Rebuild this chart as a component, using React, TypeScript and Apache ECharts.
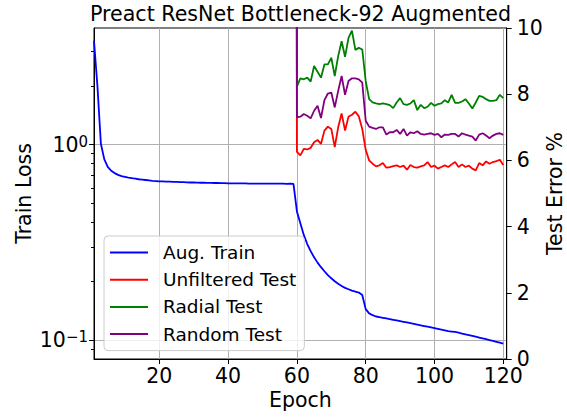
import React, { useEffect, useRef } from 'react';
import * as echarts from 'echarts';

const FONT = 'DejaVu Sans';

const trainEpochs = Array.from({ length: 120 }, (_, i) => i + 1);
const trainLoss = [
  3.40, 1.99, 1.01, 0.84, 0.77, 0.735, 0.715, 0.700, 0.690, 0.684,
  0.678, 0.673, 0.669, 0.665, 0.662, 0.659, 0.656, 0.653, 0.651, 0.649,
  0.648, 0.647, 0.646, 0.645, 0.644, 0.643, 0.642, 0.641, 0.640, 0.640,
  0.639, 0.638, 0.638, 0.637, 0.637, 0.636, 0.636, 0.635, 0.635, 0.634,
  0.634, 0.634, 0.633, 0.633, 0.633, 0.632, 0.632, 0.632, 0.632, 0.631,
  0.631, 0.631, 0.631, 0.632, 0.631, 0.631, 0.630, 0.631, 0.630, 0.455,
  0.396, 0.345, 0.310, 0.285, 0.265, 0.249, 0.236, 0.225, 0.215, 0.207,
  0.200, 0.194, 0.189, 0.185, 0.182, 0.179, 0.177, 0.175, 0.170, 0.144,
  0.137, 0.134, 0.132, 0.131, 0.130, 0.129, 0.128, 0.127, 0.126, 0.125,
  0.124, 0.123, 0.122, 0.121, 0.120, 0.119, 0.118, 0.117, 0.116, 0.115,
  0.114, 0.113, 0.112, 0.111, 0.1105, 0.110, 0.109, 0.108, 0.107, 0.106,
  0.105, 0.104, 0.103, 0.102, 0.101, 0.100, 0.099, 0.098, 0.097, 0.096,
];

const testEpochs = Array.from({ length: 62 }, (_, i) => i + 59);
const unfilteredTest = [
  90,
  6.26, 6.15, 6.35, 6.33, 6.38, 6.55, 6.62, 6.5, 6.9, 7.02,
  6.95, 6.4, 7.0, 7.42, 6.9, 7.32, 7.38, 7.47, 7.33, 6.95,
  6.32, 6.0, 5.9, 5.82, 5.85, 5.92, 5.78, 5.8, 5.83, 5.85,
  5.8, 5.84, 5.72, 5.86, 5.8, 5.78, 5.82, 5.85, 5.95, 5.8,
  5.84, 5.75, 5.8, 5.85, 5.8, 5.88, 5.95, 5.8, 5.88, 5.8,
  5.84, 5.75, 5.7, 5.92, 5.85, 5.97, 5.9, 5.95, 5.98, 6.02, 5.86,
];
const radialTest = [
  90,
  8.23, 8.48, 8.45, 8.5, 8.38, 8.85, 8.68, 8.5, 8.9, 8.9,
  9.1, 8.55, 9.15, 9.6, 9.13, 9.7, 9.92, 9.34, 9.4, 9.35,
  8.4, 7.85, 7.75, 7.72, 7.7, 7.72, 7.7, 7.67, 7.58, 7.75,
  7.88, 7.7, 7.68, 7.72, 7.82, 7.52, 7.68, 7.58, 7.62, 7.74,
  7.65, 7.7, 7.72, 7.82, 7.75, 7.98, 7.74, 7.74, 7.78, 7.85,
  7.72, 7.57, 7.75, 7.95, 7.92, 7.85, 7.8, 7.8, 7.82, 7.98, 7.88,
];
const randomTest = [
  90,
  7.3, 7.32, 7.4, 7.35, 7.27, 7.5, 7.65, 7.28, 7.82, 8.02,
  8.05, 7.6, 8.1, 8.55, 7.98, 8.4, 8.48, 8.48, 8.45, 8.35,
  7.2, 7.02, 6.98, 6.95, 7.0, 7.0, 6.78, 6.85, 6.85, 6.92,
  6.8, 6.95, 6.75, 6.85, 6.82, 6.88, 6.8, 6.78, 6.8, 6.82,
  6.77, 6.8, 6.7, 6.78, 6.77, 6.8, 6.8, 6.72, 6.82, 6.78,
  6.75, 6.72, 6.6, 6.78, 6.82, 6.75, 6.67, 6.75, 6.8, 6.82, 6.77,
];

const xTicks = [20, 40, 60, 80, 100, 120];
const lossMajorTicks = [0.1, 1];
const lossMinorTicks = [0.09, 0.2, 0.3, 0.4, 0.5, 0.6, 0.7, 0.8, 0.9, 2, 3];
const lossRange = [0.08, 3.95];
const errorRange = [0, 10];
const errorInterval = 2;

const seriesNames = ['Aug. Train', 'Unfiltered Test', 'Radial Test', 'Random Test'];
const seriesColors = ['#0000ff', '#ff0000', '#008000', '#800080'];

const log10 = (v: number) => Math.log10(v);

export default function App() {
  const ref = useRef<HTMLDivElement>(null);
  useEffect(() => {
    if (!ref.current) return;
    const chart = echarts.init(ref.current, undefined, { renderer: 'svg' });
    const testSets = [unfilteredTest, radialTest, randomTest];
    const axisLineStyle = { color: '#000', width: 1 };
    const yMin = log10(lossRange[0]);
    const yMax = log10(lossRange[1]);
    chart.setOption({
      animation: false,
      backgroundColor: '#fff',
      textStyle: { fontFamily: FONT },
      grid: {
        left: 94, top: 28, width: 412.7, height: 331,
        outerBoundsMode: 'none', containLabel: false,
        show: true, borderColor: '#000', borderWidth: 1, backgroundColor: 'transparent',
      },
      graphic: [
        {
          type: 'text', x: 300.5, y: 3, z: 10,
          style: {
            text: 'Preact ResNet Bottleneck-92 Augmented',
            font: `20.6px "${FONT}"`, fill: '#000', align: 'center', verticalAlign: 'top',
          },
        },
      ],
      legend: {
        orient: 'vertical', left: 104, top: 236,
        itemWidth: 38, itemHeight: 2, itemGap: 8.2,
        padding: [7, 8, 7, 6],
        backgroundColor: 'rgba(255,255,255,0.8)', borderColor: '#cccccc', borderWidth: 1, borderRadius: 4,
        icon: 'rect',
        formatter: '{t|{name}}',
        textStyle: {
          fontFamily: FONT, fontSize: 18.5, color: '#000',
          rich: { t: { fontFamily: FONT, fontSize: 18.5, color: '#000', padding: [0, 0, 0, 10] } },
        },
        data: seriesNames,
      },
      xAxis: {
        type: 'value', min: 1, max: 121,
        name: 'Epoch', nameLocation: 'middle', nameGap: 30, nameMoveOverlap: false,
        nameTextStyle: { fontFamily: FONT, fontSize: 20.5, color: '#000' },
        axisLine: { show: true, onZero: false, lineStyle: axisLineStyle },
        axisTick: { show: true, length: 5, lineStyle: axisLineStyle, customValues: xTicks },
        axisLabel: { fontFamily: FONT, fontSize: 20.5, color: '#000', margin: 6, customValues: xTicks },
        splitLine: { show: true, lineStyle: { color: '#b0b0b0', width: 1 } },
      },
      yAxis: [
        {
          type: 'value', min: yMin, max: yMax, position: 'left',
          name: 'Train Loss', nameLocation: 'middle', nameGap: 60, nameRotate: 90, nameMoveOverlap: false,
          nameTextStyle: { fontFamily: FONT, fontSize: 20.5, color: '#000' },
          axisLine: { show: true, onZero: false, lineStyle: axisLineStyle },
          axisTick: { show: true, length: 5, lineStyle: axisLineStyle, customValues: lossMajorTicks.map(log10) },
          axisLabel: {
            customValues: lossMajorTicks.map(log10), margin: 6, color: '#000',
            formatter: (v: number) => `{b|10}{s|${Math.round(v) === 0 ? '0' : '\u22121'}}`,
            rich: {
              b: { fontFamily: FONT, fontSize: 20.5, color: '#000', verticalAlign: 'bottom' },
              s: { fontFamily: FONT, fontSize: 15, color: '#000', verticalAlign: 'top' },
            },
          },
          splitLine: { show: true, lineStyle: { color: '#b0b0b0', width: 1 } },
        },
        {
          type: 'value', min: yMin, max: yMax, position: 'left',
          axisLine: { show: false },
          axisTick: { show: true, length: 3, lineStyle: axisLineStyle, customValues: lossMinorTicks.map(log10) },
          axisLabel: { show: false },
          splitLine: { show: false },
        },
        {
          type: 'value', min: errorRange[0], max: errorRange[1], interval: errorInterval, position: 'right',
          name: 'Test Error %', nameLocation: 'middle', nameGap: 38, nameRotate: 90, nameMoveOverlap: false,
          nameTextStyle: { fontFamily: FONT, fontSize: 20.5, color: '#000' },
          axisLine: { show: true, onZero: false, lineStyle: axisLineStyle },
          axisTick: { show: true, length: 5, lineStyle: axisLineStyle },
          axisLabel: { fontFamily: FONT, fontSize: 20.5, color: '#000', margin: 10 },
          splitLine: { show: false },
        },
      ],
      series: [
        {
          name: seriesNames[0], type: 'line', yAxisIndex: 0, showSymbol: false,
          color: seriesColors[0], lineStyle: { width: 1.8, color: seriesColors[0] },
          data: trainEpochs.map((e, i) => [e, log10(trainLoss[i])]),
        },
        ...testSets.map((vals, k) => ({
          name: seriesNames[k + 1], type: 'line', yAxisIndex: 2, showSymbol: false,
          color: seriesColors[k + 1], lineStyle: { width: 1.8, color: seriesColors[k + 1] },
          data: testEpochs.map((e, i) => [e, vals[i]]),
        })),
      ],
    });
    return () => chart.dispose();
  }, []);
  return <div ref={ref} style={{ position: 'fixed', left: 0, top: 0, width: 567, height: 417 }} />;
}
